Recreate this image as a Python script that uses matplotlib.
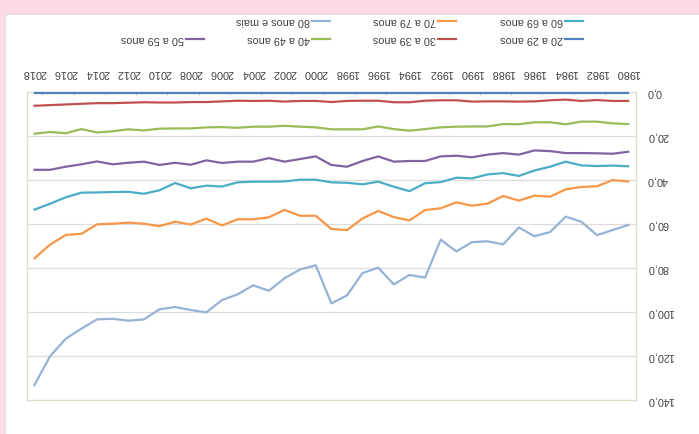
import numpy as np
import matplotlib.pyplot as plt
from matplotlib.lines import Line2D
from matplotlib.patches import Rectangle

years = list(range(1980, 2019))

age_20_29 = [0.4, 0.4, 0.4, 0.4, 0.4, 0.4, 0.4, 0.4, 0.4, 0.4,
             0.4, 0.4, 0.4, 0.4, 0.4, 0.4, 0.4, 0.4, 0.4, 0.4,
             0.4, 0.4, 0.4, 0.4, 0.4, 0.4, 0.4, 0.4, 0.4, 0.4,
             0.4, 0.4, 0.4, 0.4, 0.4, 0.4, 0.4, 0.4, 0.4]
age_30_39 = [4.2, 4.2, 3.8, 4.2, 3.6, 3.9, 4.4, 4.5, 4.4, 4.4,
             4.5, 3.9, 3.9, 4.1, 4.8, 4.8, 4.1, 4.1, 4.2, 4.7,
             4.2, 4.2, 4.5, 4.1, 4.2, 4.1, 4.4, 4.7, 4.7, 4.9,
             4.9, 4.8, 5.0, 5.2, 5.2, 5.5, 5.8, 6.1, 6.4]
age_40_49 = [14.7, 14.4, 13.6, 13.6, 14.8, 13.9, 13.9, 14.8, 14.7, 15.8,
             15.8, 15.9, 16.2, 17.0, 17.7, 17.0, 15.8, 17.1, 17.1, 17.1,
             16.2, 15.9, 15.5, 15.9, 15.9, 16.4, 16.1, 16.2, 16.7, 16.7,
             16.8, 17.6, 17.1, 18.0, 18.5, 17.0, 18.9, 18.3, 19.1]
age_50_59 = [27.3, 28.2, 28.0, 27.9, 27.9, 27.0, 26.7, 28.6, 27.9, 28.6,
             29.8, 29.1, 29.4, 31.5, 31.5, 31.8, 29.4, 31.5, 34.1, 33.3,
             29.4, 30.6, 31.8, 30.2, 31.8, 31.8, 32.4, 31.2, 33.2, 32.3,
             33.3, 31.8, 32.3, 33.0, 31.7, 33.0, 34.1, 35.5, 35.5]
age_60_69 = [33.9, 33.6, 33.8, 33.5, 31.8, 34.1, 35.8, 38.3, 37.0, 37.6,
             39.4, 39.1, 41.1, 41.6, 45.2, 43.2, 40.9, 42.1, 41.4, 41.2,
             40.0, 40.0, 40.8, 40.9, 40.9, 41.2, 43.1, 42.7, 43.9, 41.5,
             44.8, 46.4, 45.5, 45.6, 45.8, 45.9, 48.0, 50.9, 53.6]
age_70_79 = [40.8, 40.2, 43.0, 43.3, 44.4, 47.7, 47.3, 49.5, 47.4, 50.9,
             51.8, 50.3, 53.0, 53.8, 58.5, 57.0, 54.2, 57.6, 62.9, 62.4,
             56.4, 56.4, 53.7, 57.1, 58.0, 58.0, 60.8, 57.7, 60.4, 59.1,
             61.1, 60.0, 59.5, 60.0, 60.3, 64.6, 65.1, 69.5, 75.7]
age_80_plus = [60.6, 62.9, 65.2, 59.1, 56.8, 63.8, 65.7, 61.7, 69.4, 68.0,
               68.4, 72.6, 67.3, 84.5, 83.3, 87.6, 80.0, 82.4, 92.6, 96.2,
               78.9, 80.8, 84.8, 90.5, 88.0, 92.1, 94.7, 100.3, 99.2, 97.9,
               98.9, 103.5, 104.1, 103.2, 103.5, 107.7, 112.3, 120.2, 133.3]

labels = ['20 a 29 anos', '30 a 39 anos', '40 a 49 anos', '50 a 59 anos',
          '60 a 69 anos', '70 a 79 anos', '80 anos e mais']
colors = ['#4F81BD', '#C0504D', '#9BBB59', '#8064A2', '#4BACC6', '#F79646', '#95B3D7']
series = [age_20_29, age_30_39, age_40_49, age_50_59, age_60_69, age_70_79, age_80_plus]

W, H = 699, 434
plt.rcParams['font.family'] = ['Liberation Sans', 'DejaVu Sans']

fig = plt.figure(figsize=(W / 100, H / 100), dpi=100)
fig.patch.set_facecolor('#fcdbe6')
fig.patches.append(Rectangle((5 / W, -0.01), (W - 4) / W, (H - 13.5) / H + 0.01,
                             transform=fig.transFigure, facecolor='white',
                             edgecolor='#dedede', lw=0.8, zorder=-10))

# chart is shown rotated by 180 degrees
ax = fig.add_axes([26.7 / W, 1 - 399.7 / H, (636 - 26.7) / W, (399.7 - 91.7) / H])
ax.set_zorder(1)
ax.patch.set_alpha(0)
for s, c in zip(series, colors):
    ax.plot(years, s, color=c, lw=1.6, solid_joinstyle='round', clip_on=False, zorder=3)

ax.set_xlim(2018.5, 1979.5)
ax.set_ylim(140, 0)

ax.xaxis.tick_top()
ax.set_xticks(years[::2])
ax.set_xticklabels([str(y) for y in years[::2]], rotation=180, fontsize=7.8, color='#404040')
ax.set_xticks(np.arange(1979.5, 2019, 2), minor=True)
ax.tick_params(axis='x', which='major', length=0, pad=10)
ax.tick_params(axis='x', which='minor', length=2.5, direction='in', color='#c8c8c8')

ax.yaxis.tick_right()
yt = list(range(0, 141, 20))
ax.set_yticks(yt)
ax.set_yticklabels([f'{v:.1f}'.replace('.', ',') for v in yt], rotation=180,
                   fontsize=7.8, color='#404040')
ax.tick_params(axis='y', length=0, pad=8)

ax.grid(axis='y', color='#dcdcdc', lw=0.9)
ax.set_axisbelow(True)
for sp in ax.spines.values():
    sp.set_color('#e2dccb')
    sp.set_linewidth(0.9)

# legend, drawn by hand so it reads upside down like the rest
handle_x = [565, 438, 312, 186]
row_y = [39, 21]
for i, (lab, c) in enumerate(zip(labels, colors)):
    row, col = divmod(i, 4)
    x0 = handle_x[col]
    y = 1 - row_y[row] / H
    fig.add_artist(Line2D([x0 / W, (x0 + 18) / W], [y, y], transform=fig.transFigure,
                          color=c, lw=1.6))
    fig.text((x0 - 2) / W, y, lab, rotation=180, ha='right', va='center',
             fontsize=7.8, color='#404040')

plt.savefig('out.png', dpi=100)
